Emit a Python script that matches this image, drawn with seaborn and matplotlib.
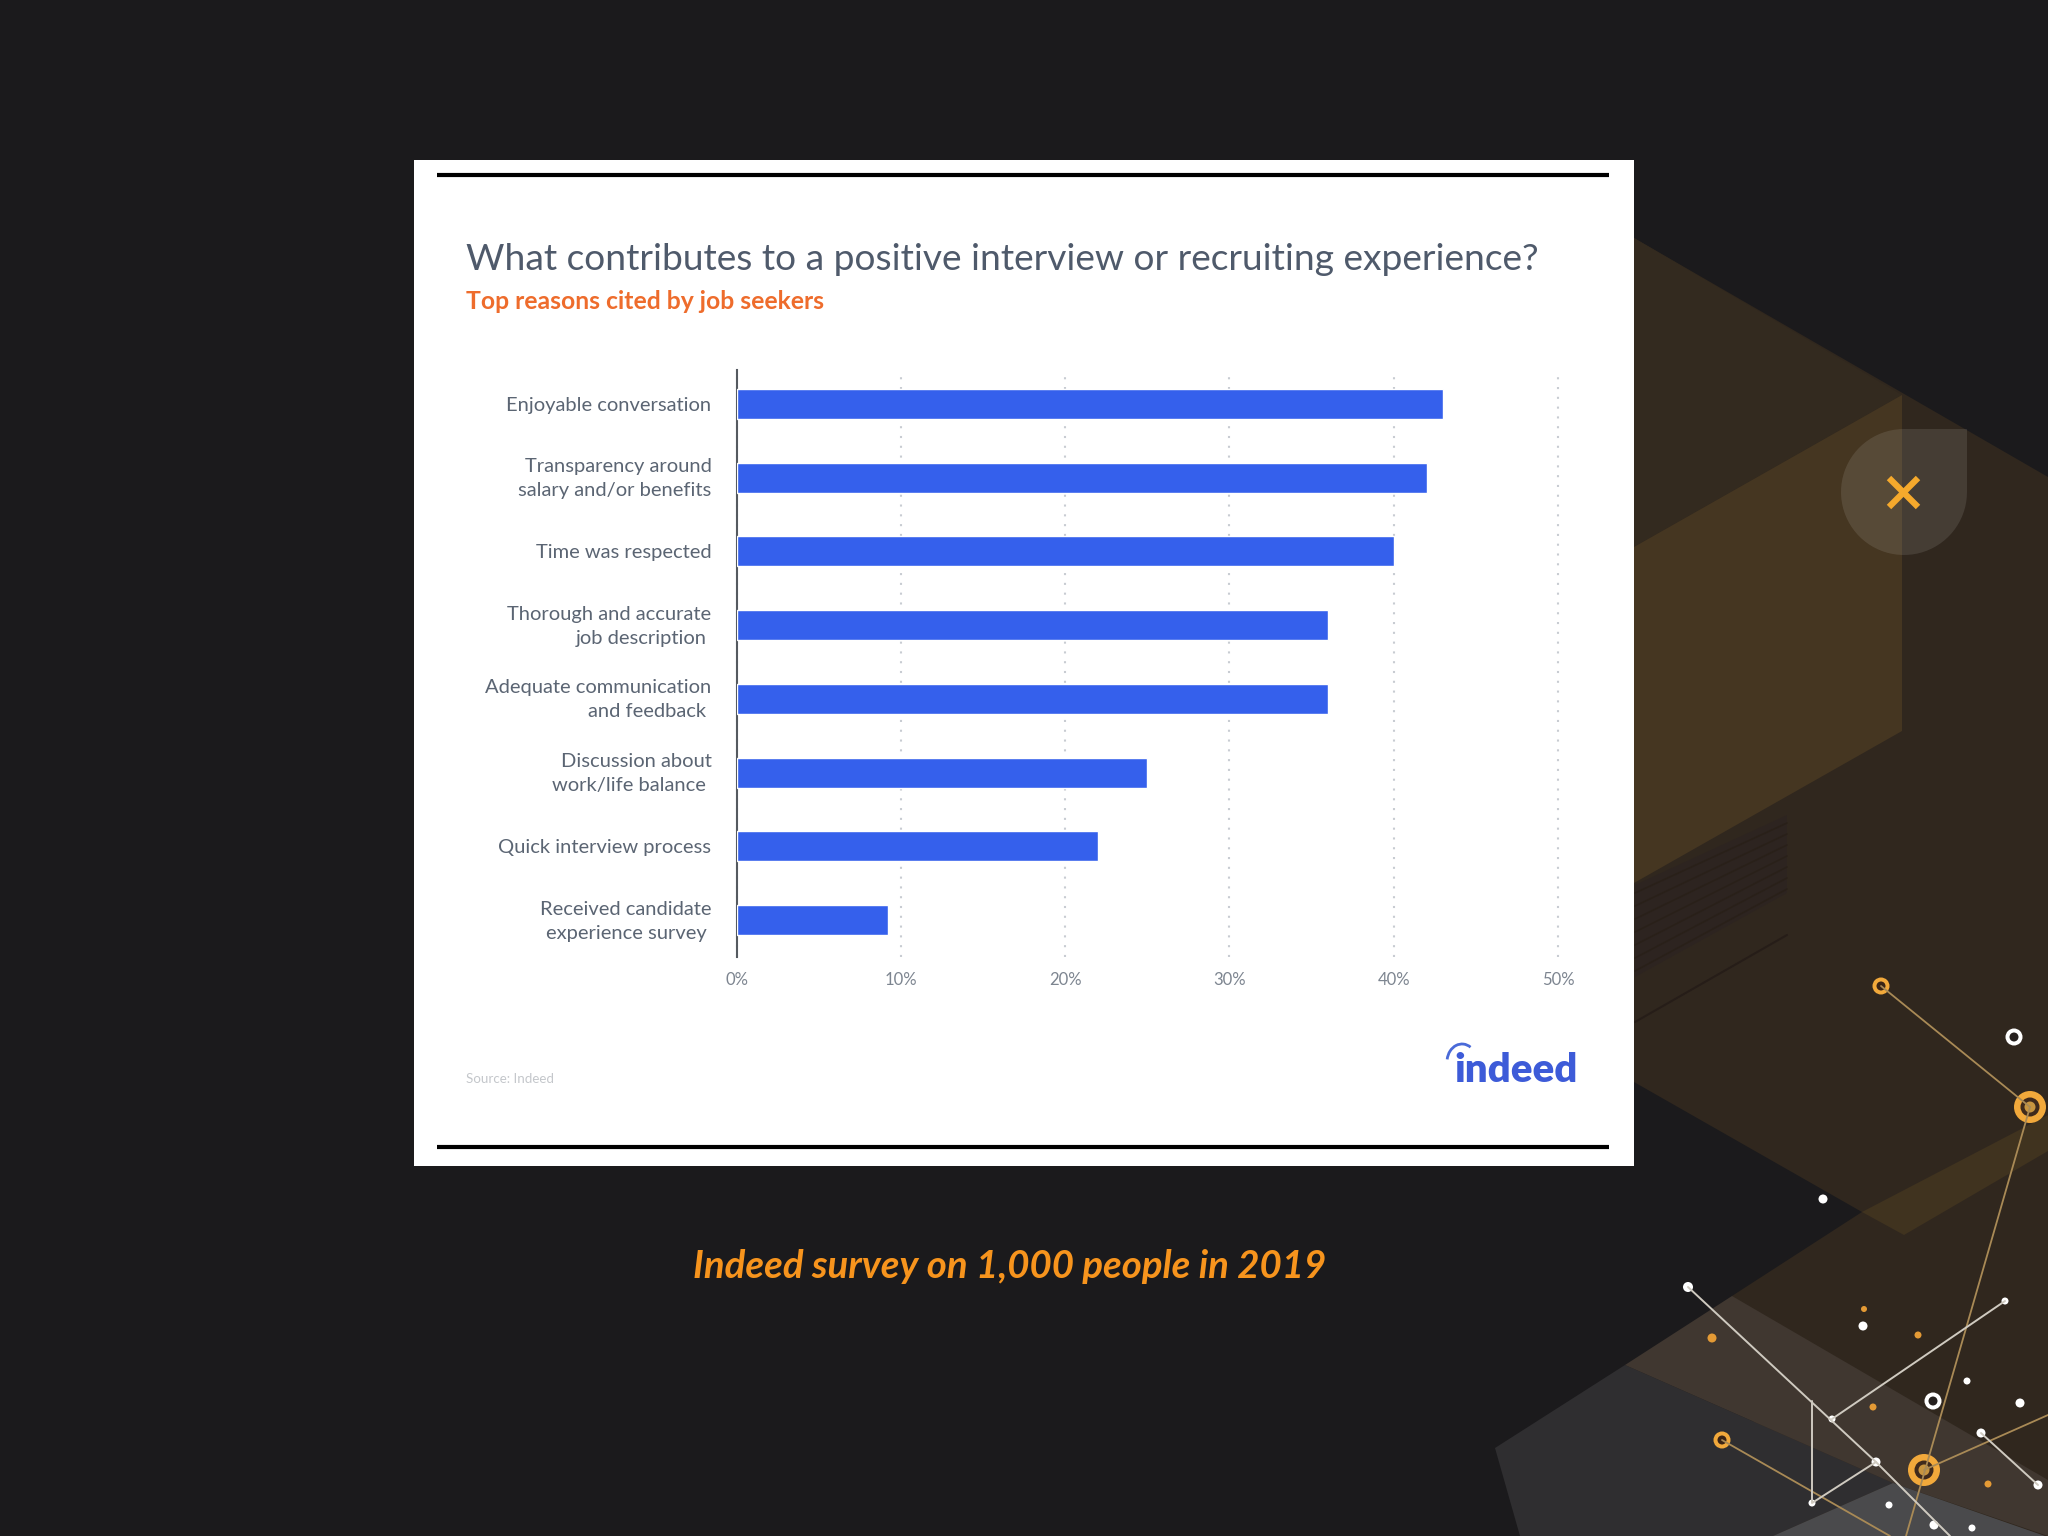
#!/usr/bin/env python

import matplotlib
matplotlib.use('Agg')

import matplotlib.pyplot as plt
import numpy as np
import pandas as pd
import seaborn as sns

from matplotlib.patches import Arc, Circle, Polygon, Rectangle
from matplotlib.transforms import ScaledTranslation

W, H = 2048, 1536

# chart data
reasons = ['Enjoyable conversation',
           'Transparency around\nsalary and/or benefits',
           'Time was respected',
           'Thorough and accurate\njob description ',
           'Adequate communication\nand feedback ',
           'Discussion about\nwork/life balance ',
           'Quick interview process',
           'Received candidate\nexperience survey ']
percents = [43, 42, 40, 36, 36, 25, 22, 9.2]
x_ticks = [0, 10, 20, 30, 40, 50]
x_tick_labels = ['0%', '10%', '20%', '30%', '40%', '50%']

title = 'What contributes to a positive interview or recruiting experience?'
subtitle = 'Top reasons cited by job seekers'
source = 'Source: Indeed'
caption = 'Indeed survey on 1,000 people in 2019'

# slide decoration, in pixels
dark_bg = '#1b1a1c'
bg_polys = [
    ('#30271e', [(1634, 238), (2048, 477), (2048, 1536), (1773, 1536), (1732, 1296),
                 (1862, 1212), (1634, 1082)]),
    ('#332a1f', [(1634, 238), (1902, 395), (1634, 547)]),
    ('#453621', [(1634, 547), (1902, 395), (1902, 731), (1634, 883)]),
    ('#40331f', [(1862, 1212), (2048, 1115), (2048, 1151), (1904, 1235)]),
    ('#2f2e30', [(1625, 1365), (1495, 1448), (1520, 1536), (1773, 1536), (1893, 1483)]),
    ('#403730', [(1732, 1296), (1625, 1365), (1893, 1483), (2048, 1536), (2048, 1480)]),
    ('#4a4a4c', [(1893, 1483), (1773, 1536), (2045, 1536)]),
    ('#2d2420', [(1635, 885), (1787, 815), (1787, 893), (1635, 977)]),
]
orange_lines = [[(1881, 986), (2030, 1107)], [(2030, 1107), (1906, 1536)],
                [(1722, 1440), (1890, 1536)], [(1924, 1470), (2048, 1415)]]
white_lines = [[(1688, 1287), (1876, 1462), (1950, 1536)], [(2005, 1301), (1832, 1419)],
               [(1812, 1401), (1812, 1503), (1876, 1462)], [(1981, 1433), (2038, 1485)]]
white_dots = [(1823, 1199, 4.5), (1688, 1287, 5), (2005, 1301, 3.5), (1863, 1326, 4.5),
              (1967, 1381, 3.5), (2020, 1403, 4.5), (1832, 1419, 3.5), (1981, 1433, 4.5),
              (1876, 1462, 4.5), (1812, 1503, 3.5), (1889, 1505, 3.5), (2038, 1485, 4.5),
              (1934, 1525, 4.5), (1972, 1528, 3.5)]
orange_dots = [(1864, 1309, 3), (1712, 1338, 4.5), (1918, 1335, 3.5), (1873, 1407, 3.5),
               (1988, 1484, 3.5)]
small_rings = [(1881, 986), (1722, 1440)]
big_rings = [(2030, 1107), (1924, 1470)]
white_rings = [(2014, 1037), (1933, 1401)]

sns.set_style('white')
plt.rcParams['font.family'] = ['Lato', 'DejaVu Sans']


def bubble_outline(x, y, r):
    # round drop with one square corner at the top right
    angles = np.radians(np.linspace(90, 360, 60))
    pts = [(x + r * np.cos(a), y - r * np.sin(a)) for a in angles]
    pts.append((x + r, y - r))
    return pts


def draw_background(bg):
    bg.set_xlim(0, W)
    bg.set_ylim(H, 0)
    bg.axis('off')

    for color, pts in bg_polys:
        bg.add_patch(Polygon(pts, closed=True, fc=color, ec='none'))

    # hatching in the shaded panel
    for i in range(7):
        bg.plot([1635, 1787], [893 + i * 13, 823 + i * 11], color='#292019', lw=1.2)
    bg.plot([1635, 1787], [1022, 935], color='#261d18', lw=1.5)

    bg.add_patch(Polygon(bubble_outline(1904, 492, 63), closed=True, fc='white', ec='none',
                         alpha=0.1))
    bg.plot([1889, 1918], [478, 507], color='#f5a92c', lw=4.5, solid_capstyle='butt')
    bg.plot([1889, 1918], [507, 478], color='#f5a92c', lw=4.5, solid_capstyle='butt')

    for pts in orange_lines:
        xs, ys = zip(*pts)
        bg.plot(xs, ys, color='#a98a56', lw=1.3)
    for pts in white_lines:
        xs, ys = zip(*pts)
        bg.plot(xs, ys, color='#cfcac0', lw=1.4)

    for x, y, r in white_dots:
        bg.add_patch(Circle((x, y), r, fc='white', ec='none'))
    for x, y, r in orange_dots:
        bg.add_patch(Circle((x, y), r, fc='#e49a35', ec='none'))
    for x, y in small_rings:
        bg.add_patch(Circle((x, y), 8.5, fc='#f2a93b', ec='none'))
        bg.add_patch(Circle((x, y), 4.5, fc='#3a2415', ec='none'))
    for x, y in big_rings:
        bg.add_patch(Circle((x, y), 16, fc='#f2a93b', ec='none'))
        bg.add_patch(Circle((x, y), 9.5, fc='#3f2a1c', ec='none'))
        bg.add_patch(Circle((x, y), 5.5, fc='#c8953f', ec='none'))
    for x, y in white_rings:
        bg.add_patch(Circle((x, y), 8.5, fc='white', ec='none'))
        bg.add_patch(Circle((x, y), 4.5, fc='#25201e', ec='none'))

    # white card
    bg.add_patch(Rectangle((414, 160), 1220, 1006, fc='white', ec='none'))
    bg.plot([437, 1609], [175, 175], color='black', lw=3, solid_capstyle='butt')
    bg.plot([437, 1609], [1147, 1147], color='black', lw=3, solid_capstyle='butt')

    # card texts
    bg.text(466, 270, title, fontsize=26.7, color='#4f5a6b', ha='left', va='baseline')
    bg.text(466, 309, subtitle, fontsize=17.8, color='#ee6c2c', fontweight='bold', ha='left',
            va='baseline')
    bg.text(466, 1083, source, fontsize=9.6, color='#c4c7cb', ha='left', va='baseline')

    # logo
    bg.text(1578, 1082, 'indeed', fontsize=29, color='#3d5bd8', fontweight='heavy', ha='right',
            va='baseline')
    bg.add_patch(Arc((1462, 1062), 30, 36, theta1=190, theta2=300, color='#4a6ad8', lw=2))

    # slide caption
    bg.text(1010, 1278, caption, fontsize=27.6, color='#f7941d', fontweight='bold', style='italic',
            ha='center', va='baseline')


def draw_chart(fig, ax):
    df = pd.DataFrame({'reason': reasons, 'percent': percents})
    sns.barplot(data=df, x='percent', y='reason', color='#3560ec', saturation=1, width=0.407,
                ax=ax, zorder=3)

    ax.set_xlim(0, 50)
    ax.set_ylim(7.5, -0.46)
    ax.set_xlabel('')
    ax.set_ylabel('')
    ax.set_xticks(x_ticks)
    ax.set_xticklabels(x_tick_labels)
    ax.patch.set_alpha(0)

    ax.grid(False)
    ax.xaxis.grid(True, color='#c8ccd2', linestyle=(0, (1, 3.7)), lw=1.5)
    ax.set_axisbelow(True)
    for line in ax.get_xgridlines():
        line.set_clip_on(False)

    sns.despine(ax=ax, top=True, right=True, bottom=True)
    ax.spines['left'].set_color('#555a60')
    ax.spines['left'].set_linewidth(1.5)

    ax.tick_params(axis='x', length=0, pad=11, labelsize=12, labelcolor='#7d8590')
    ax.tick_params(axis='y', length=0, pad=18, labelsize=14.5, labelcolor='#5b6573')

    # two-line labels sit a little high in the original
    nudge = ScaledTranslation(0, 4 / 100, fig.dpi_scale_trans)
    for label in ax.get_yticklabels():
        label.set_linespacing(1.5)
        if '\n' in label.get_text():
            label.set_transform(label.get_transform() + nudge)


def main():
    fig = plt.figure(figsize=(W / 100, H / 100), dpi=100, facecolor=dark_bg)
    bg = fig.add_axes([0, 0, 1, 1], zorder=0)
    draw_background(bg)

    ax = fig.add_axes([736.5 / W, 1 - 957 / H, 821.5 / W, 587 / H], zorder=1)
    draw_chart(fig, ax)

    fig.savefig('out.png', dpi=100, facecolor=dark_bg)


if __name__ == '__main__':
    main()
